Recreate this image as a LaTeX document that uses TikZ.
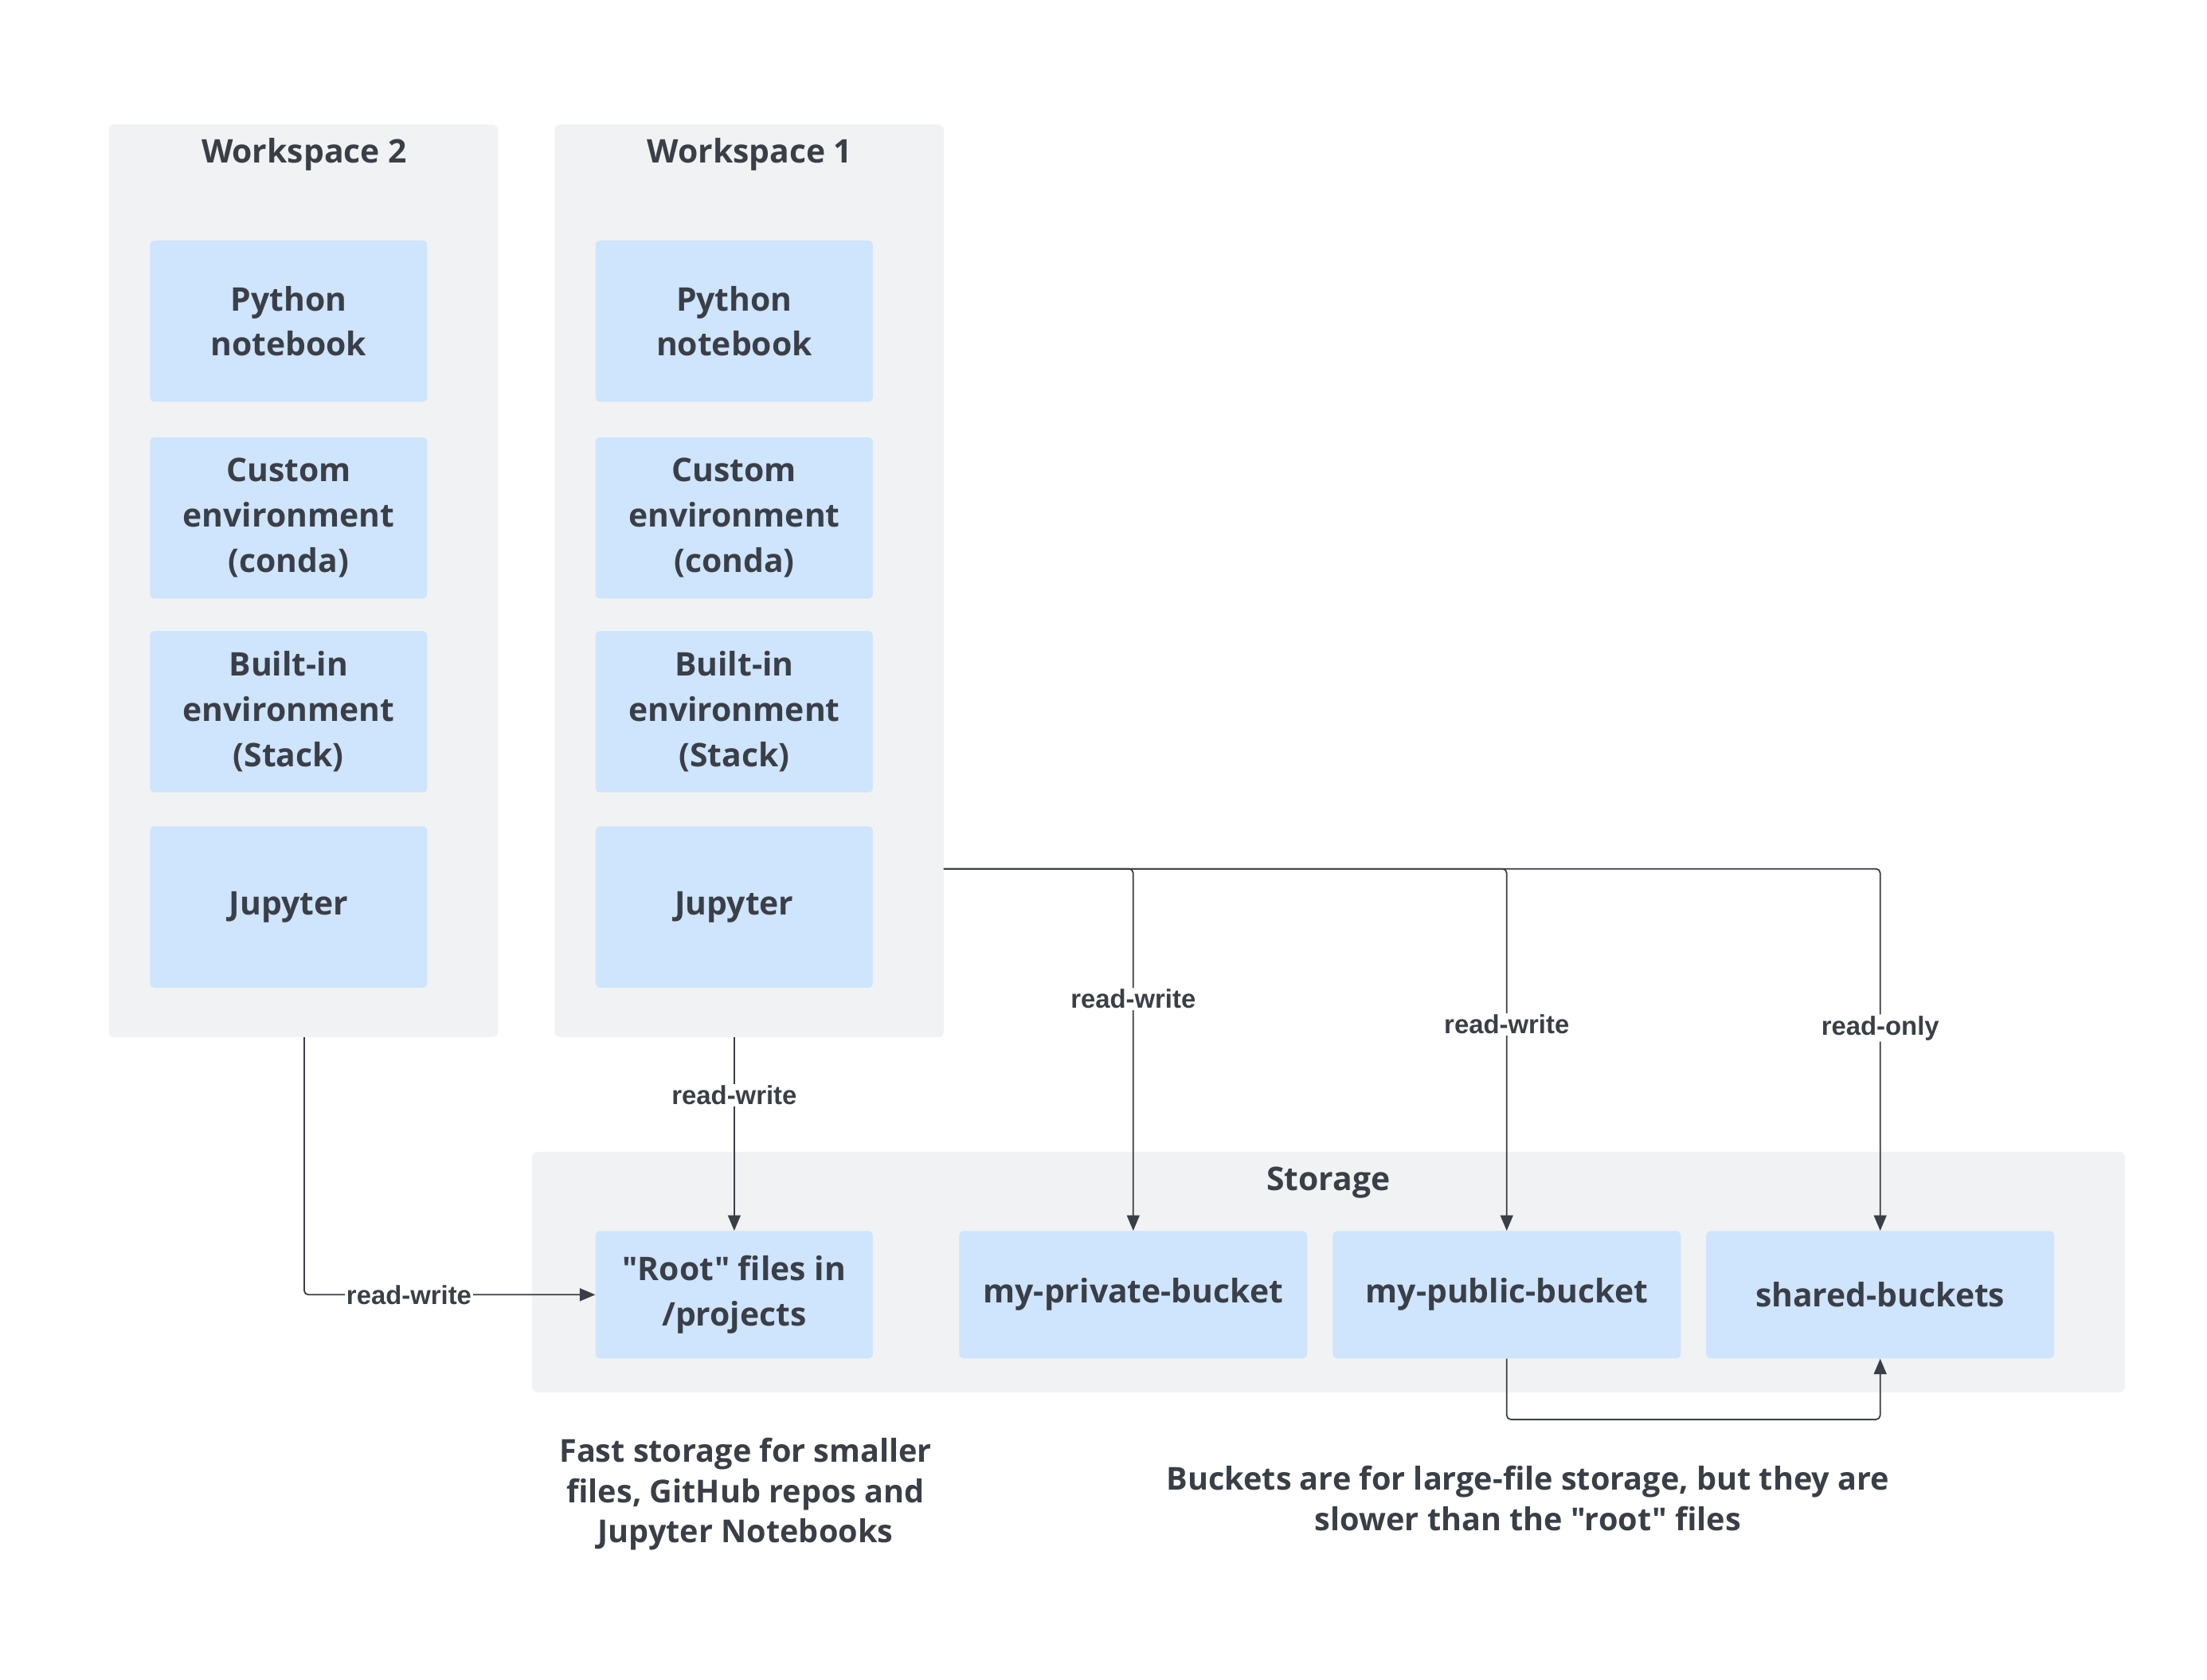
\documentclass[tikz,border=0pt]{standalone}
\usepackage{fontspec}
\setmainfont[Ligatures=TeXReset]{Open Sans}
\newfontfamily\lblfont{Liberation Sans}
\usetikzlibrary{arrows.meta}
\definecolor{panel}{HTML}{F1F2F4}
\definecolor{boxc}{HTML}{CFE4FD}
\definecolor{ink}{HTML}{3A3F47}
\tikzset{x=1pt,y=-1pt,
 pan/.style={fill=panel,draw=none,rounded corners=4pt},
 bx/.style={fill=boxc,draw=none,rounded corners=3pt,text=ink,align=center,font=\fontsize{23}{32}\selectfont\bfseries},
 ttl/.style={text=ink,font=\fontsize{23}{30}\selectfont\bfseries},
 con/.style={draw=ink,line width=1pt,rounded corners=3pt},
 arr/.style={con,-{Triangle[length=11pt,width=9pt]}},
 lbl/.style={fill=white,text=ink,inner sep=1pt,font=\lblfont\fontsize{18.5}{20}\selectfont\bfseries},
 captext/.style={text=ink,align=center,font=\fontsize{22.3}{28.5}\selectfont\bfseries}}
\begin{document}
\begin{tikzpicture}
\useasboundingbox[fill=white] (0,0) rectangle (1560,1187);
\fill[pan] (77,88) rectangle (352,733);
\fill[pan] (392,88) rectangle (667,733);
\fill[pan] (376,814) rectangle (1502,984);
\coordinate (w2b) at (215,733);
\coordinate (w1b) at (519,733);
\coordinate (w1r) at (667,614);
\node[ttl] (t2) at (215,109) {Workspace 2};
\node[ttl] (t1) at (530,109) {Workspace 1};
\node[ttl] (ts) at (939,836) {Storage};
\foreach \x/\n in {204/a,519/b}{
 \node[bx,minimum width=196pt,minimum height=114pt] (py\n) at (\x,227) {Python\\notebook};
 \node[bx,minimum width=196pt,minimum height=114pt] (cu\n) at (\x,366) {Custom\\environment\\(conda)};
 \node[bx,minimum width=196pt,minimum height=114pt] (bi\n) at (\x,503) {Built-in\\environment\\(Stack)};
 \node[bx,minimum width=196pt,minimum height=114pt] (ju\n) at (\x,641) {Jupyter};
}
\node[bx,minimum width=196pt,minimum height=90pt] (root) at (519,915) {"Root" files in\\/projects};
\node[bx,minimum width=246pt,minimum height=90pt] (priv) at (801,915) {my-private-bucket};
\node[bx,minimum width=246pt,minimum height=90pt] (pub) at (1065,915) {my-public-bucket};
\node[bx,minimum width=246pt,minimum height=90pt] (sh) at (1329,915) {shared-buckets};
\draw[arr] (w1b) -- (root.north) node[lbl,pos=0.3] {read-write};
\draw[arr] (w2b) |- (root.west) node[lbl,pos=0.68] {read-write};
\draw[arr] (w1r) -| (priv.north) node[lbl,pos=0.68] {read-write};
\draw[arr] (w1r) -| (pub.north) node[lbl,pos=0.715] {read-write};
\draw[arr] (w1r) -| (sh.north) node[lbl,pos=0.72] {read-only};
\draw[arr] (pub.south) -- ++(0,43) -| (sh.south);
\node[captext] (c1) at (527,1056) {Fast storage for smaller\\files, GitHub repos and\\Jupyter Notebooks};
\node[captext] (c2) at (1080,1059) {Buckets are for large-file storage, but they are\\slower than the "root" files};
\end{tikzpicture}
\end{document}
